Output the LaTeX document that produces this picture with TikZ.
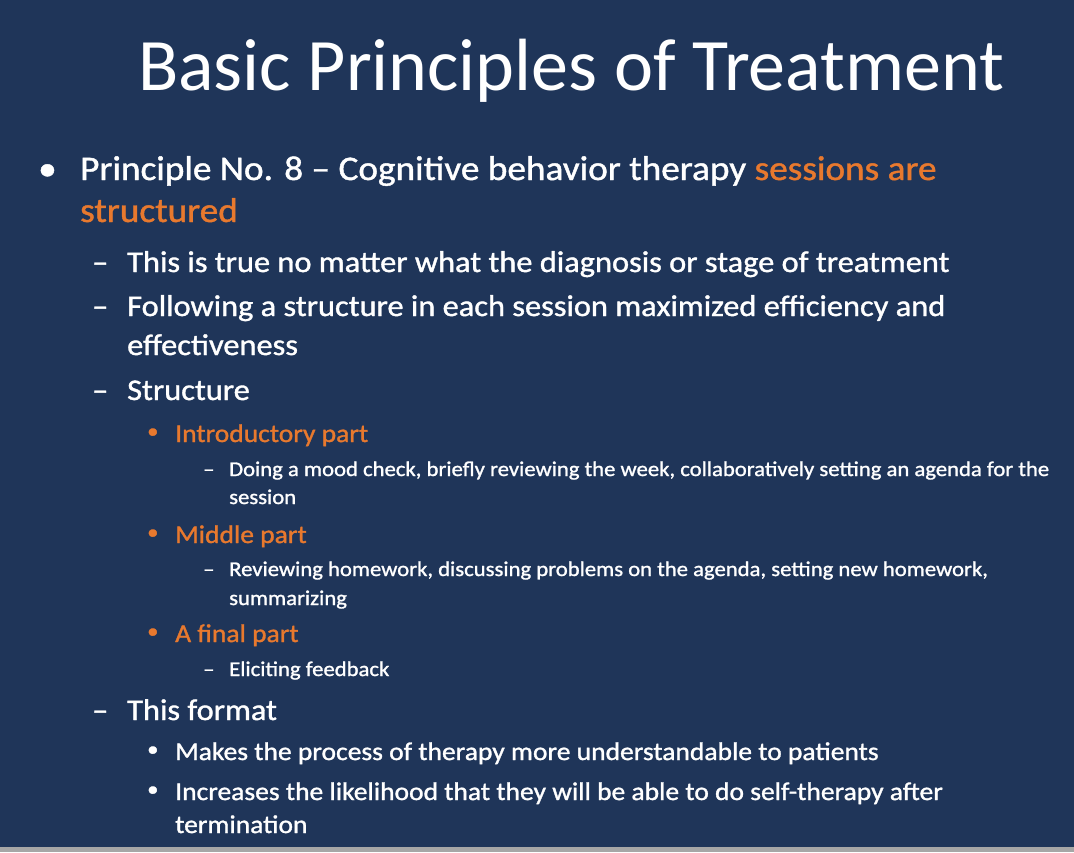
\documentclass[tikz,border=0pt]{standalone}
\usepackage{fontspec}
\setmainfont{Carlito}
\newfontfamily\bodyf[FakeBold=1.2,FakeStretch=1.08]{Carlito}
\definecolor{bg}{HTML}{1F3559}
\definecolor{orng}{HTML}{E8792E}
\begin{document}
\begin{tikzpicture}[x=1pt,y=-1pt,
  t/.style={anchor=base west,inner sep=0pt,text=white},
  ti/.style={t,font=\fontsize{74}{74}\selectfont},
  la/.style={t,font=\bodyf\fontsize{34.5}{34}\selectfont},
  lb/.style={t,font=\bodyf\fontsize{30}{30}\selectfont},
  lc/.style={t,font=\bodyf\fontsize{25.5}{25}\selectfont},
  ld/.style={t,font=\bodyf\fontsize{21}{21}\selectfont}]
\fill[bg] (0,0) rectangle (1074,852);
\fill[gray!70] (0,847) rectangle (1074,852);
\useasboundingbox (0,0) rectangle (1074,852);
\node[ti] (title) at (138,90) {Basic Principles of Treatment};
\node[la] (b1) at (38,180) {•};
\node[la] (p1) at (80,180) {Principle No. 8 – Cognitive behavior therapy \textcolor{orng}{sessions are}};
\node[la,text=orng] (p1b) at (80,222) {structured};
\node[lb] (d1) at (92,272) {–};
\node[lb] (s1) at (127,272) {This is true no matter what the diagnosis or stage of treatment};
\node[lb] (d2) at (92,316) {–};
\node[lb] (s2) at (127,316) {Following a structure in each session maximized efficiency and};
\node[lb] (s2b) at (127,355) {effectiveness};
\node[lb] (d3) at (92,400) {–};
\node[lb] (s3) at (127,400) {Structure};
\node[ld,text=orng] (o1) at (147,438) {•};
\node[lc,text=orng] (i1) at (175,442) {Introductory part};
\node[ld] (e1) at (203,476) {–};
\node[ld] (j1) at (229,476) {Doing a mood check, briefly reviewing the week, collaboratively setting an agenda for the};
\node[ld] (j1b) at (229,504) {session};
\node[ld,text=orng] (o2) at (147,539) {•};
\node[lc,text=orng] (i2) at (175,543) {Middle part};
\node[ld] (e2) at (203,576) {–};
\node[ld] (j2) at (229,576) {Reviewing homework, discussing problems on the agenda, setting new homework,};
\node[ld] (j2b) at (229,605) {summarizing};
\node[ld,text=orng] (o3) at (147,638) {•};
\node[lc,text=orng] (i3) at (175,642) {A final part};
\node[ld] (e3) at (203,676) {–};
\node[ld] (j3) at (229,676) {Eliciting feedback};
\node[lb] (d4) at (92,720) {–};
\node[lb] (s4) at (127,720) {This format};
\node[ld] (w1) at (147,756) {•};
\node[lc] (k1) at (175,760) {Makes the process of therapy more understandable to patients};
\node[ld] (w2) at (147,796) {•};
\node[lc] (k2) at (175,800) {Increases the likelihood that they will be able to do self-therapy after};
\node[lc] (k2b) at (175,833) {termination};
\end{tikzpicture}
\end{document}
